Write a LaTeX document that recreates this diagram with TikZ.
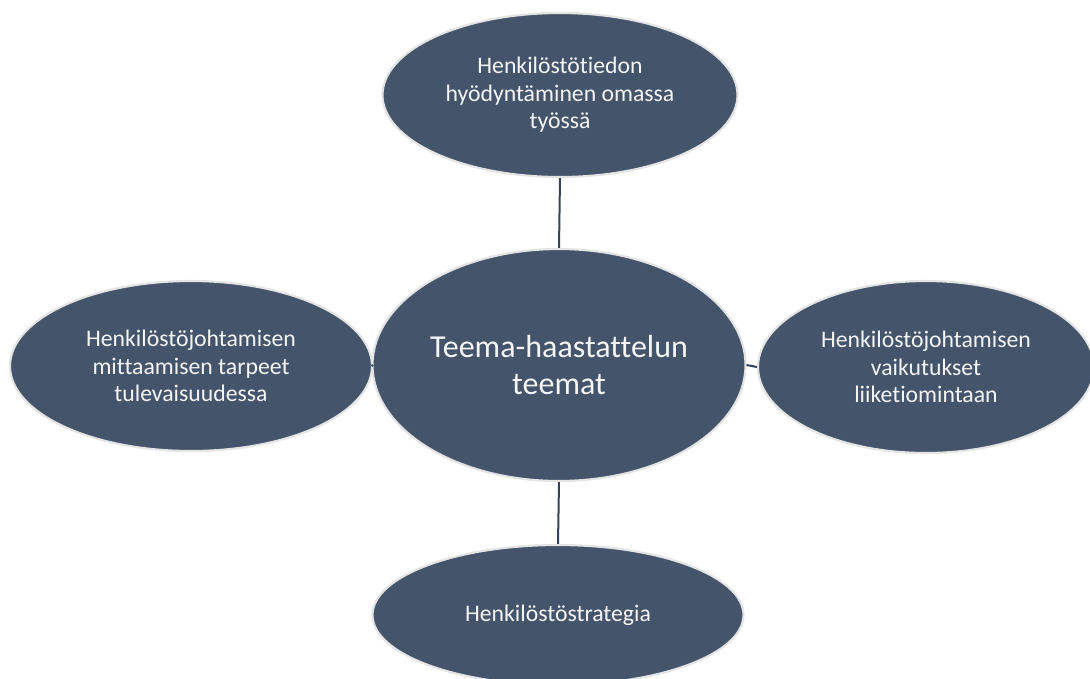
\documentclass[tikz,border=0pt]{standalone}
\usepackage{fontspec}
\setmainfont[Ligatures=NoCommon]{Carlito}
\usetikzlibrary{shapes.geometric}
\definecolor{fillc}{HTML}{44546A}
\definecolor{linec}{HTML}{344458}
\definecolor{rimc}{HTML}{E4E4E4}
\begin{document}
\begin{tikzpicture}[x=0.75pt,y=-0.75pt,
  bubble/.style={ellipse,fill=fillc,draw=rimc,line width=1.6pt,inner sep=0pt,
    text=white!96!black,align=center,font=\fontsize{17.8}{20.5}\selectfont},
  link/.style={draw=linec,line width=1.5pt}]
\useasboundingbox (0,0) rectangle (1090,679);
\begin{scope}
\clip (0,0) rectangle (1090,679);
\node[bubble,minimum width={355*0.75},minimum height={164*0.75}] (top) at (560,95)
  {Henkilöstötiedon\\hyödyntäminen omassa\\työssä};
\node[bubble,minimum width={362*0.75},minimum height={170*0.75}] (left) at (191,366)
  {Henkilöstöjohtamisen\\mittaamisen tarpeet\\tulevaisuudessa};
\node[bubble,minimum width={336*0.75},minimum height={172*0.75}] (right) at (926,367)
  {Henkilöstöjohtamisen\\vaikutukset\\liiketiomintaan};
\node[bubble,minimum width={371*0.75},minimum height={140*0.75}] (bottom) at (558,615)
  {Henkilöstöstrategia};
\node[bubble,minimum width={373*0.75},minimum height={232*0.75},
  font=\fontsize{24}{28}\selectfont] (center) at (559,365)
  {Teema-haastattelun\\teemat};
\draw[link] (top.south) -- (center.north);
\draw[link] (center.south) -- (bottom.north);
\draw[link] (center.east) -- (right.west);
\draw[link] (left.east) -- (center.west);
\end{scope}
\end{tikzpicture}
\end{document}
